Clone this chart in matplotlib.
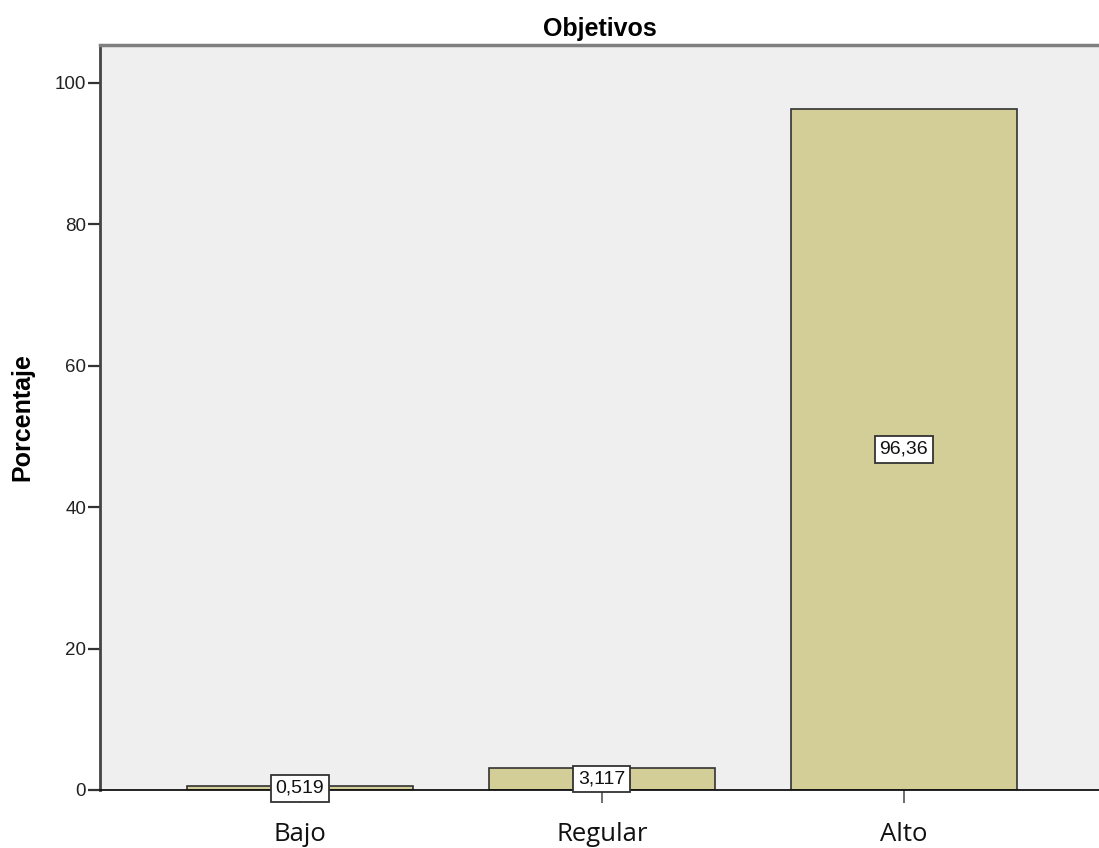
import matplotlib.pyplot as plt
import numpy as np

categories = ["Bajo", "Regular", "Alto"]
porcentajes = [0.519, 3.117, 96.36]
etiquetas = ["0,519", "3,117", "96,36"]
y_ticks = [0, 20, 40, 60, 80, 100]

BAR_COLOR = "#d3ce97"
BG_COLOR = "#efefef"

plt.rcParams["font.family"] = ["Liberation Sans", "DejaVu Sans"]

fig = plt.figure(figsize=(10.99, 8.48), dpi=100)
ax = fig.add_axes([0.091, 0.0684, 0.909, 0.879])
ax.set_facecolor(BG_COLOR)

x = np.arange(len(categories))
ax.bar(x, porcentajes, width=0.75, color=BAR_COLOR, edgecolor="#333333",
       linewidth=1.2, zorder=2)

# etiquetas de valor en el centro de cada barra
for xi, val, txt in zip(x, porcentajes, etiquetas):
    ax.text(xi, val / 2, txt, ha="center", va="center", fontsize=14,
            color="#111111", zorder=5, clip_on=False,
            bbox=dict(boxstyle="square,pad=0.25", facecolor="white",
                      edgecolor="#333333", linewidth=1.3))

ax.set_xlim(-0.662, 2.646)
ax.set_ylim(0, 105.4)
ax.set_yticks(y_ticks)
ax.set_yticklabels([str(t) for t in y_ticks], fontsize=13.5, color="#222222")
ax.set_xticks(x)
ax.set_xticklabels(categories, fontfamily="Open Sans", fontsize=18.5,
                   color="#111111")
ax.tick_params(axis="y", length=9, width=1.6, color="#333333", pad=1)
ax.tick_params(axis="x", length=9, width=1.2, color="#555555", pad=14)

ax.spines["right"].set_visible(False)
ax.spines["left"].set_color("#444444")
ax.spines["left"].set_linewidth(2)
ax.spines["top"].set_color("#7f7f7f")
ax.spines["top"].set_linewidth(2.5)
ax.spines["bottom"].set_color("#111111")
ax.spines["bottom"].set_linewidth(1.3)
ax.spines["bottom"].set_zorder(3)

ax.set_title("Objetivos", fontsize=18, fontweight="bold", pad=6)
ax.set_ylabel("Porcentaje", fontsize=18, fontweight="bold", labelpad=15)

fig.savefig("out.png", dpi=100)
